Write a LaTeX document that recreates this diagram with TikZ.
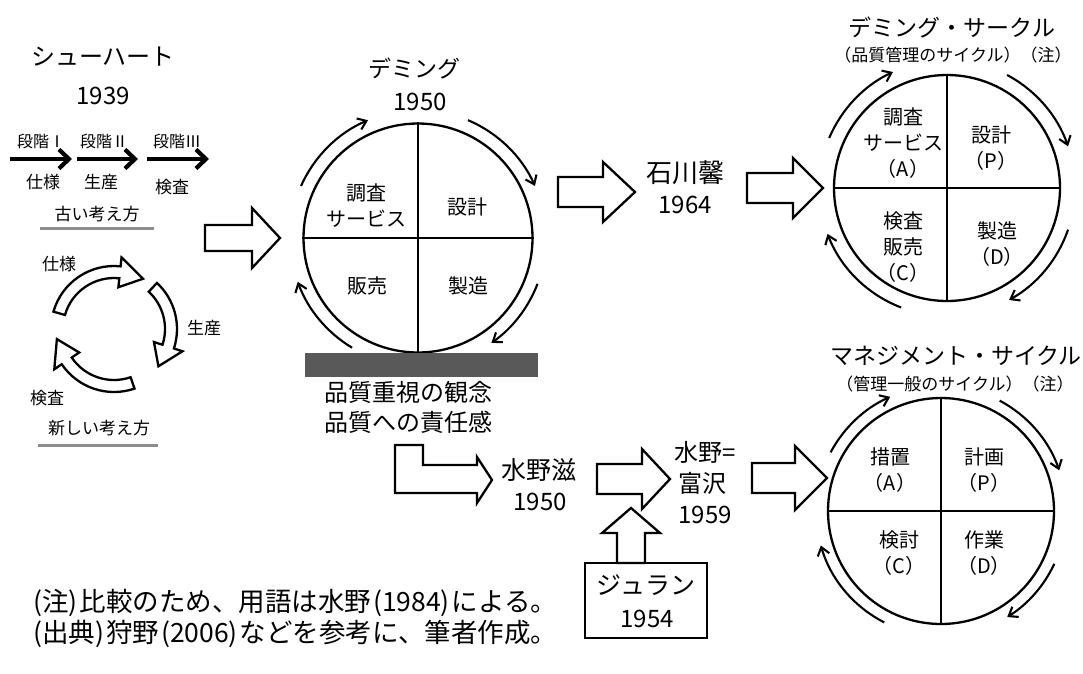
\documentclass[tikz,border=0pt]{standalone}
\usepackage{fontspec}
\setmainfont{Noto Sans CJK JP}
\usetikzlibrary{arrows.meta}
\definecolor{bargray}{RGB}{89,89,89}
\definecolor{linegray}{RGB}{140,140,140}
\newcommand\blockarrow[7]{% name, tail x, head base x, tip x, centre y, body half, head half
  \coordinate (#1-tail) at (#2,#5);
  \coordinate (#1-tip) at (#4,#5);
  \draw[blockarr] (#2,{#5-#6}) -- (#3,{#5-#6}) -- (#3,{#5-#7}) -- (#1-tip)
    -- (#3,{#5+#7}) -- (#3,{#5+#6}) -- (#1-tail |- 0,{#5+#6}) -- cycle;}
\newcommand\cycarrow[3]{% start angle, body end angle, tip angle
  \draw[blockarr] ([shift={(cyc)}]#1:63) arc[start angle=#1,end angle=#2,radius=63]
    -- ([shift={(cyc)}]#2:72) -- ([shift={(cyc)}]#3:58) -- ([shift={(cyc)}]#2:42)
    -- ([shift={(cyc)}]#2:51) arc[start angle=#2,end angle=#1,radius=51] -- cycle;}
\newcommand\orbitarc[4]{% centre, start, end, radius
  \draw[orbit] ([shift={(#1)}]#2:#4) arc[start angle=#2,end angle=#3,radius=#4];}
\newcommand\lp{\kern2pt(}
\newcommand\rp{)\kern2pt}
\begin{document}
\begin{tikzpicture}[x=1pt,y=-1pt,
  every node/.style={inner sep=0pt, align=center},
  blockarr/.style={draw, line width=2.3pt, fill=white, line join=miter},
  orbit/.style={line width=2.1pt, -{Straight Barb[length=8pt,width=12pt]}},
  stagearrow/.style={line width=4.2pt, -{Straight Barb[length=10pt,width=19pt]}},
  circ/.style={draw, circle, line width=2.3pt, minimum size=#1},
  cross/.style={line width=2.3pt},
  qlabel/.style={font=\fontsize{20}{26}\selectfont},
  who/.style={font=\fontsize{24}{32}\selectfont},
  yr/.style={font=\fontsize{24}{30}\selectfont},
  lbls/.style={font=\fontsize{17}{20}\selectfont},
  ttl/.style={font=\fontsize{23}{28}\selectfont},
  subttl/.style={font=\fontsize{17}{20}\selectfont},
  note/.style={font=\fontsize{26.5}{30}\selectfont, anchor=west},
  uline/.style={draw=linegray, line width=3pt}]
\path[use as bounding box] (0,0) rectangle (1083,673);

% ---------------- Shewhart ----------------
\node[who] (sh) at (103,57) {シューハート};
\node[yr] (shy) at (103,96) {1939};
\node[lbls, font=\fontsize{16}{20}\selectfont] (st1) at (41,141) {段階Ⅰ};
\node[lbls, font=\fontsize{16}{20}\selectfont] (st2) at (104,141) {段階Ⅱ};
\node[lbls, font=\fontsize{16}{20}\selectfont] (st3) at (177,141) {段階Ⅲ};
\coordinate (s0) at (10,159);
\coordinate (s1) at (72,159);
\coordinate (s2) at (77,159);
\coordinate (s3) at (138,159);
\coordinate (s4) at (147,159);
\coordinate (s5) at (209,159);
\draw[stagearrow] (s0) -- (s1);
\draw[stagearrow] (s2) -- (s3);
\draw[stagearrow] (s4) -- (s5);
\node[lbls] (o1) at (43,182) {仕様};
\node[lbls] (o2) at (101,182) {生産};
\node[lbls] (o3) at (172,187) {検査};
\node[lbls] (old) at (97,214) {古い考え方};
\draw[uline] (40,228) -- (154,228);

\coordinate (cyc) at (114,329);
\cycarrow{196}{276}{300}
\cycarrow{313}{378}{400}
\cycarrow{71}{146}{170}
\node[lbls] (c1) at (59,264) {仕様};
\node[lbls] (c2) at (204,328) {生産};
\node[lbls] (c3) at (47,398) {検査};
\node[lbls] (new) at (99,428) {新しい考え方};
\draw[uline] (38,445) -- (158,445);

% ---------------- Deming ----------------
\blockarrow{a1}{205}{252}{280}{238}{13}{30}
\node[who, font=\fontsize{23}{30}\selectfont] (dm) at (414,68) {デミング};
\node[yr] (dmy) at (420,102) {1950};
\node[circ=229pt] (dc) at (418,238) {};
\draw[cross] (dc.north) -- (dc.south);
\draw[cross] (dc.west) -- (dc.east);
\node[qlabel] (dq1) at (366,206) {調査\\サービス};
\node[qlabel] (dq2) at (467,207) {設計};
\node[qlabel] (dq3) at (367,286) {販売};
\node[qlabel] (dq4) at (468,286) {製造};
\orbitarc{dc}{204}{247}{128}
\orbitarc{dc}{293}{336}{128}
\orbitarc{dc}{21}{55}{128}
\orbitarc{dc}{121}{160}{128}
\node[fill=bargray, minimum width=233pt, minimum height=24pt] (base) at (421.5,365) {};
\node[who] (q1) at (408,392) {品質重視の観念};
\node[who] (q2) at (408,422) {品質への責任感};

% ---------------- Ishikawa ----------------
\blockarrow{a2}{558}{603}{635}{192}{15}{30}
\node[who, font=\fontsize{26}{30}\selectfont] (ik) at (685,173) {石川馨};
\node[yr] (iky) at (685,205) {1964};
\blockarrow{a3}{747}{793}{823}{188}{15}{30}

% ---------------- Deming circle ----------------
\node[ttl] (dt) at (952,27) {デミング・サークル};
\node[subttl] (dst) at (953,55) {（品質管理のサイクル）（注）};
\node[circ=226pt] (rc) at (947,188) {};
\draw[cross] (rc.north) -- (rc.south);
\draw[cross] (rc.west) -- (rc.east);
\node[qlabel] (rq1) at (903,143) {調査\\サービス\\（A）};
\node[qlabel] (rq2) at (991,148) {設計\\（P）};
\node[qlabel] (rq3) at (903,247) {検査\\販売\\（C）};
\node[qlabel] (rq4) at (997,244) {製造\\（D）};
\orbitarc{rc}{203}{245}{128}
\orbitarc{rc}{298}{341}{128}
\orbitarc{rc}{19}{61}{128}
\orbitarc{rc}{111}{159}{128}

% ---------------- Mizuno ----------------
\draw[blockarr] (395,445) -- (423,445) -- (423,465) -- (477,465) -- (477,457) -- (492,480)
  -- (477,503) -- (477,493) -- (395,493) -- cycle;
\node[who, font=\fontsize{25}{30}\selectfont] (mz) at (539,470) {水野滋};
\node[yr] (mzy) at (540,502) {1950};
\blockarrow{a4}{597}{642}{670}{479}{15}{30}
\node[who, font=\fontsize{24}{30}\selectfont] (mt1) at (705,452) {水野=};
\node[who, font=\fontsize{24}{30}\selectfont] (mt2) at (702,483) {富沢};
\node[yr] (mty) at (705,515) {1959};
\blockarrow{a5}{752}{795}{827}{478}{15}{32}

% ---------------- Juran ----------------
\node[draw, line width=2.2pt, minimum width=122pt, minimum height=75pt] (jbox) at (646,600.5) {};
\node[who, font=\fontsize{25}{30}\selectfont] (jr) at (646,585) {ジュラン};
\node[yr] (jry) at (647,619) {1954};
\coordinate (up-tip) at (631,508);
\draw[blockarr] (617,563) -- (617,533) -- (602,533) -- (up-tip) -- (660,533) -- (645,533) -- (645,563) -- cycle;

% ---------------- Management cycle ----------------
\node[ttl] (mt) at (956,356) {マネジメント・サイクル};
\node[subttl] (mst) at (955,384) {（管理一般のサイクル）（注）};
\node[circ=226pt] (mc) at (941,511) {};
\draw[cross] (mc.north) -- (mc.south);
\draw[cross] (mc.west) -- (mc.east);
\node[qlabel] (mq1) at (890,470) {措置\\（A）};
\node[qlabel] (mq2) at (984,470) {計画\\（P）};
\node[qlabel] (mq3) at (899,553) {検討\\（C）};
\node[qlabel] (mq4) at (984,553) {作業\\（D）};
\orbitarc{mc}{208}{246}{125}
\orbitarc{mc}{298}{341}{125}
\orbitarc{mc}{25}{58}{125}
\orbitarc{mc}{117}{164}{125}

% ---------------- Notes ----------------
\node[note] (n1) at (33,603) {(注\rp 比較のため、用語は水野\lp 1984\rp による。};
\node[note] (n2) at (33,634) {(出典\rp 狩野\lp 2006\rp などを参考に、筆者作成。};
\end{tikzpicture}
\end{document}
